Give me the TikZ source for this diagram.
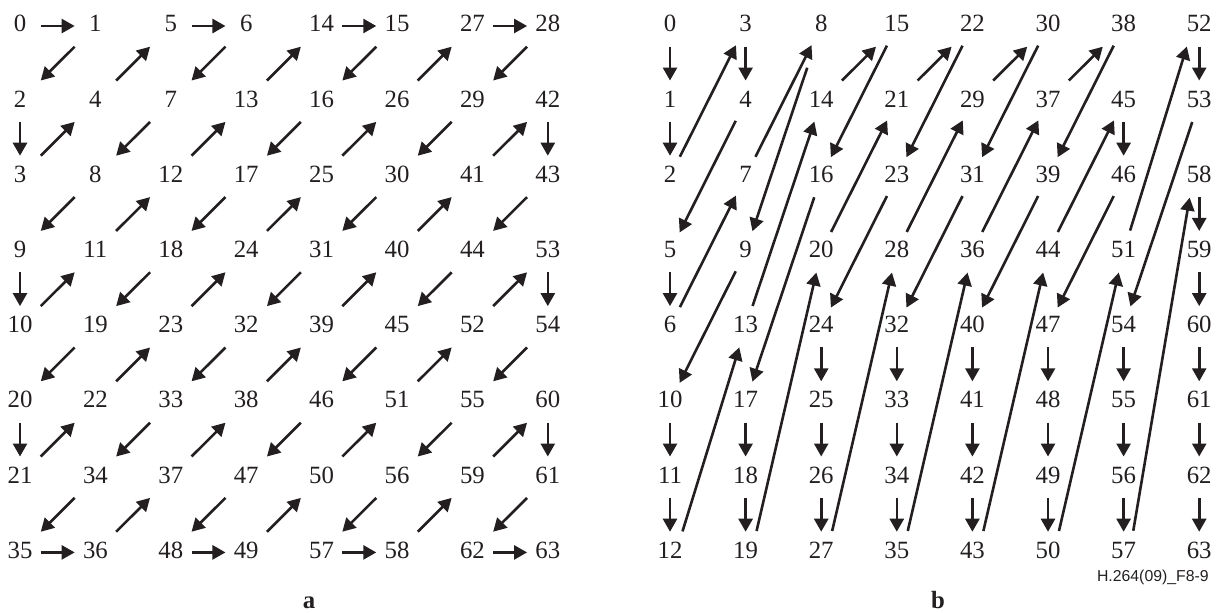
\documentclass[tikz,border=0pt]{standalone}
\usepackage{fontspec}
\setmainfont{Liberation Serif}
\newfontfamily\figidfont{Liberation Sans}
\usepackage{xcolor}
\definecolor{scanink}{HTML}{231F20}
\usepackage{tikz}
\usetikzlibrary{arrows.meta, calc}

\begin{document}
\begin{tikzpicture}[x=0.5pt, y=-0.5pt,
  coef/.style={inner sep=0pt, text height=8.4pt, text depth=2.5pt,
    font=\fontsize{12.4}{14}\selectfont, text=scanink},
  scanarrow/.style={draw=scanink, line width=1.3pt,
    -{Triangle[length=6.5pt, width=7pt]}},
  longscan/.style={scanarrow, shorten <=11pt, shorten >=10.75pt},
  panel/.style={anchor=base, inner sep=0pt,
    font=\fontsize{12.4}{14}\selectfont\bfseries, text=scanink}
]
\useasboundingbox (0,0) rectangle (1219,612);

\foreach \row [count=\r from 0] in {{0,1,5,6,14,15,27,28},{2,4,7,13,16,26,29,42},
    {3,8,12,17,25,30,41,43},{9,11,18,24,31,40,44,53},{10,19,23,32,39,45,52,54},
    {20,22,33,38,46,51,55,60},{21,34,37,47,50,56,59,61},{35,36,48,49,57,58,62,63}}
  \foreach \v [count=\c from 0] in \row
    \node[coef] (zig-\v) at (20+75.4*\c, 26+75.2*\r) {\v};

\foreach \row [count=\r from 0] in {{0,3,8,15,22,30,38,52},{1,4,14,21,29,37,45,53},
    {2,7,16,23,31,39,46,58},{5,9,20,28,36,44,51,59},{6,13,24,32,40,47,54,60},
    {10,17,25,33,41,48,55,61},{11,18,26,34,42,49,56,62},{12,19,27,35,43,50,57,63}}
  \foreach \v [count=\c from 0] in \row
    \node[coef] (fld-\v) at (670+75.6*\c, 26+75.2*\r) {\v};

\foreach \k [evaluate=\k as \n using int(\k+1)] in {0,...,62}
  \draw[scanarrow] ($(zig-\k)!0.275!(zig-\n)$) -- ($(zig-\k)!0.725!(zig-\n)$);

\foreach \k [evaluate=\k as \n using int(\k+1)] in {0,1,3,5,10,11,14,17,18,21,24,25,26,29,
    32,33,34,37,40,41,42,45,47,48,49,52,54,55,56,58,59,60,61,62}
  \draw[scanarrow] ($(fld-\k)!0.275!(fld-\n)$) -- ($(fld-\k)!0.725!(fld-\n)$);

\foreach \k [evaluate=\k as \n using int(\k+1)] in {2,4,6,7,9,13,15,16,20,22,23,28,30,31,
    36,38,39,44,46,53}
  \draw[longscan] (fld-\k.center) -- (fld-\n.center);

\foreach \k [evaluate=\k as \n using int(\k+1)] in {12,19,27,35,43,50}
  \draw[longscan] ([xshift=3pt]fld-\k.center) -- (fld-\n.center);

\draw[longscan, shorten <=22pt] (fld-8.center) -- (fld-9.center);
\draw[longscan] (fld-51.center) -- ([xshift=-3pt]fld-52.center);
\draw[longscan] ([xshift=3pt]fld-57.center) -- ([xshift=-3pt]fld-58.center);

\node[panel] (cap-a) at (309,608) {a};
\node[panel] (cap-b) at (938,608) {b};
\node[anchor=base east, inner sep=0pt, text=scanink,
  font=\figidfont\fontsize{7.9}{9}\selectfont] (fig-id) at (1209,581) {H.264(09)\_F8-9};
\end{tikzpicture}
\end{document}
